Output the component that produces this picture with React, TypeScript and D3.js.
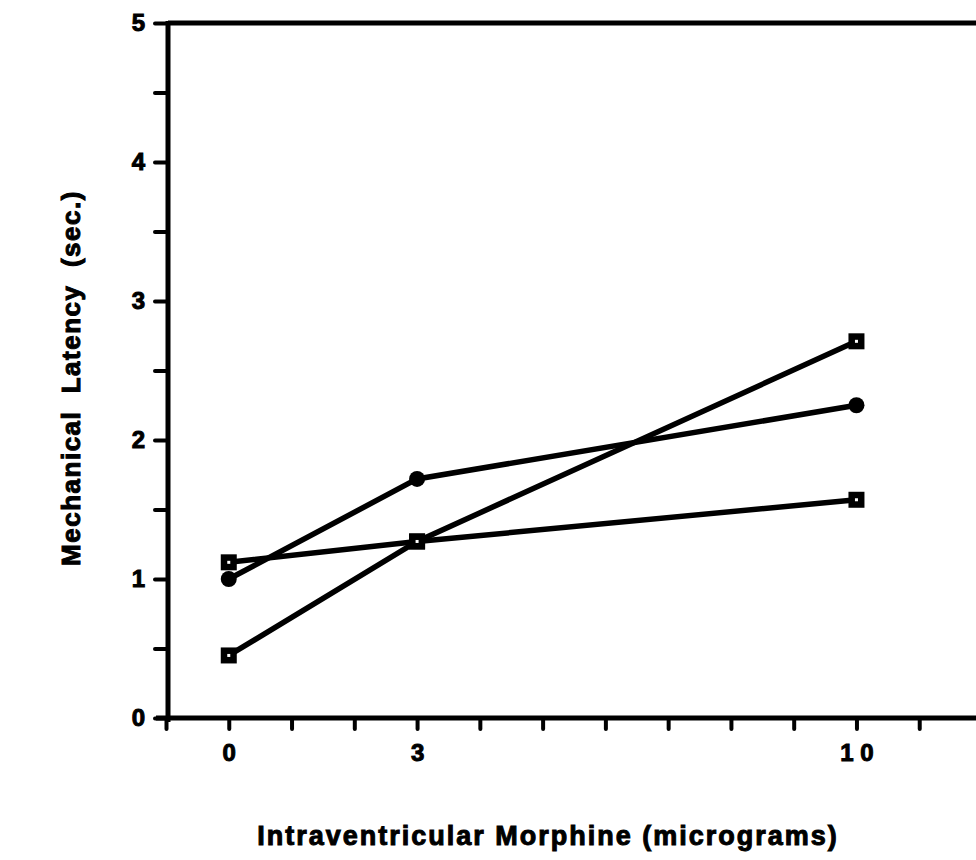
import React, { useRef, useEffect } from 'react';
import * as d3 from 'd3';

type Pt = { dose: number; latency: number };

const doses = [0, 3, 10];
const squareHigh = [0.45, 1.27, 2.71];
const circleSeries = [1.0, 1.72, 2.25];
const squareLow = [1.12, 1.27, 1.57];

const xTicks = d3.range(-1, 12);
const xLabelled = [0, 3, 10];
const yTicks = d3.range(0, 5.01, 0.5);
const yLabelled = [0, 1, 2, 3, 4, 5];

const W = 976;
const H = 860;
const FONT = '"Liberation Sans", Arial, Helvetica, sans-serif';

const toPts = (vals: number[]): Pt[] => vals.map((v, i) => ({ dose: doses[i], latency: v }));

const App = () => {
  const ref = useRef<SVGSVGElement | null>(null);

  useEffect(() => {
    if (!ref.current) return;
    const svg = d3.select(ref.current);
    svg.selectAll('*').remove();

    const x = d3.scaleLinear().domain([-1, 12]).range([166, 982]);
    const y = d3.scaleLinear().domain([0, 5]).range([718, 23]);

    // frame: top line
    svg
      .append('line')
      .attr('x1', x(-1) + 2)
      .attr('x2', W)
      .attr('y1', y(5))
      .attr('y2', y(5))
      .attr('stroke', '#000')
      .attr('stroke-width', 5);

    const heavyText = (sel: d3.Selection<any, any, any, any>, size: number) =>
      sel
        .attr('font-family', FONT)
        .attr('font-weight', 'bold')
        .attr('font-size', size)
        .attr('fill', '#000')
        .attr('stroke', '#000')
        .attr('stroke-width', 1);

    const yAxis = d3
      .axisLeft(y)
      .tickValues(yTicks)
      .tickSize(13)
      .tickPadding(10)
      .tickFormat((d) => (yLabelled.includes(+d) ? String(d) : ''));

    const gy = svg.append('g').attr('transform', `translate(${x(-1) + 2},0)`).call(yAxis);
    gy.select('.domain').remove();
    gy.selectAll('line').attr('stroke', '#000').attr('stroke-width', 4).attr('stroke-linecap', 'round');
    heavyText(gy.selectAll('text'), 24);
    gy.append('line')
      .attr('x1', 0)
      .attr('x2', 0)
      .attr('y1', y(5) - 2)
      .attr('y2', y(0) + 4)
      .attr('stroke', '#000')
      .attr('stroke-width', 5);

    const xAxis = d3
      .axisBottom(x)
      .tickValues(xTicks)
      .tickSize(11)
      .tickPadding(15)
      .tickFormat((d) => (xLabelled.includes(+d) ? (d === 10 ? '1 0' : String(d)) : ''));

    const gx = svg.append('g').attr('transform', `translate(0,${y(0)})`).call(xAxis);
    gx.select('.domain').remove();
    gx.selectAll('line').attr('stroke', '#000').attr('stroke-width', 4).attr('stroke-linecap', 'round');
    heavyText(gx.selectAll('text'), 24);
    gx.append('line')
      .attr('x1', x(-1) - 10)
      .attr('x2', W)
      .attr('y1', 0)
      .attr('y2', 0)
      .attr('stroke', '#000')
      .attr('stroke-width', 5);

    // series lines
    const line = d3
      .line<Pt>()
      .x((d) => x(d.dose))
      .y((d) => y(d.latency));

    const series = [
      { pts: toPts(squareHigh), marker: 'square' },
      { pts: toPts(circleSeries), marker: 'circle' },
      { pts: toPts(squareLow), marker: 'square' },
    ];

    series.forEach((s) => {
      svg
        .append('path')
        .datum(s.pts)
        .attr('fill', 'none')
        .attr('stroke', '#000')
        .attr('stroke-width', 5.5)
        .attr('d', line);
    });

    series.forEach((s) => {
      const g = svg.append('g');
      if (s.marker === 'circle') {
        g.selectAll('circle')
          .data(s.pts)
          .enter()
          .append('circle')
          .attr('cx', (d) => x(d.dose))
          .attr('cy', (d) => y(d.latency))
          .attr('r', 8)
          .attr('fill', '#000');
      } else {
        g.selectAll('rect.outer')
          .data(s.pts)
          .enter()
          .append('rect')
          .attr('class', 'outer')
          .attr('x', (d) => x(d.dose) - 8)
          .attr('y', (d) => y(d.latency) - 8)
          .attr('width', 16)
          .attr('height', 16)
          .attr('fill', '#000');
        g.selectAll('rect.inner')
          .data(s.pts)
          .enter()
          .append('rect')
          .attr('class', 'inner')
          .attr('x', (d) => x(d.dose) - 1.5)
          .attr('y', (d) => y(d.latency) - 1.5)
          .attr('width', 3)
          .attr('height', 3)
          .attr('fill', '#fff');
      }
    });

    // axis titles
    heavyText(
      svg
        .append('text')
        .attr('x', 548)
        .attr('y', 845)
        .attr('text-anchor', 'middle')
        .attr('letter-spacing', 2)
        .text('Intraventricular Morphine (micrograms)'),
      27,
    );

    heavyText(
      svg
        .append('text')
        .attr('transform', `translate(80,378) rotate(-90)`)
        .attr('text-anchor', 'middle')
        .attr('letter-spacing', 1.5)
        .style('white-space', 'pre')
        .text('Mechanical  Latency  (sec.)'),
      26,
    );
  }, []);

  return (
    <svg
      ref={ref}
      width={W}
      height={H}
      style={{ position: 'absolute', left: 0, top: 0, background: '#fff' }}
    />
  );
};

export default App;
